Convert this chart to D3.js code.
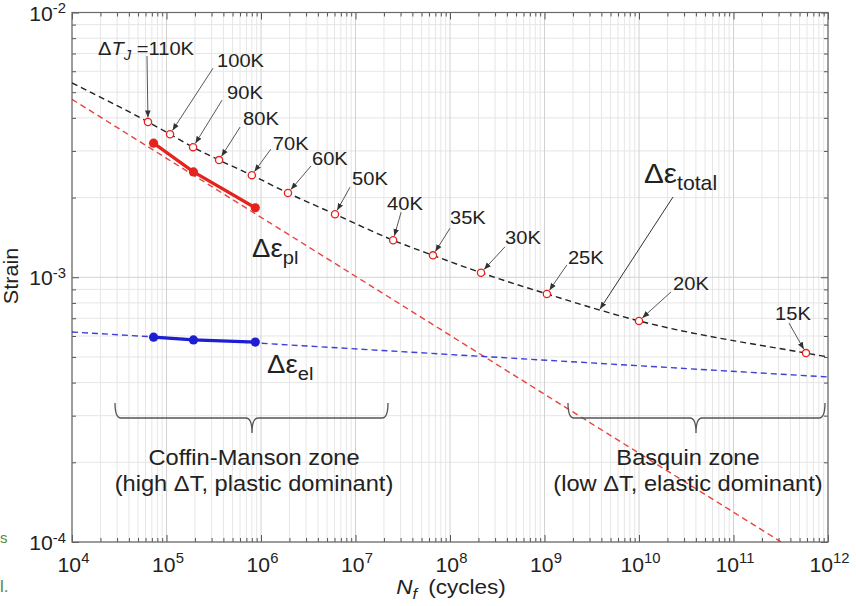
<!DOCTYPE html>
<html>
<head>
<meta charset="utf-8">
<script src="https://cdn.jsdelivr.net/npm/d3@7"></script>
<style>
  body { margin: 0; background: #fff; }
  svg { display: block; font-family: "Liberation Sans", Arial, Helvetica, sans-serif; }
</style>
</head>
<body>
<svg id="chart" width="856" height="606"></svg>
<script>
// Junction temperature swings (K) and the cycles to failure / total strain they map to
const deltaTj = [110, 100, 90, 80, 70, 60, 50, 40, 35, 30, 25, 20, 15];
const cyclesTotal = [6.37e4, 1.09e5, 1.91e5, 3.6e5, 8.0e5, 1.93e6, 6.07e6, 2.5e7, 6.6e7, 2.13e8, 1.06e9, 1.0e10, 5.85e11];
const strainTotal = [3.86e-3, 3.47e-3, 3.10e-3, 2.77e-3, 2.43e-3, 2.08e-3, 1.73e-3, 1.38e-3, 1.21e-3, 1.04e-3, 8.65e-4, 6.84e-4, 5.17e-4];

// Total-strain curve values at the axis limits
const totalEndCycles = [1e4, 1e12];
const totalEndStrain = [5.42e-3, 5.0e-4];

// Fitted plastic (Coffin-Manson) and elastic (Basquin) lines, by their end points
const plasticFitCycles = [1e4, 3.2e11];
const plasticFitStrain = [4.7e-3, 1e-4];
const elasticFitCycles = [1e4, 1e12];
const elasticFitStrain = [6.21e-4, 4.2e-4];

// Measured test points split into plastic and elastic parts
const testCycles = [7.3e4, 1.93e5, 8.7e5];
const plasticStrain = [3.21e-3, 2.50e-3, 1.83e-3];
const elasticStrain = [5.94e-4, 5.8e-4, 5.69e-4];

// Decade tick exponents
const xTickExps = [4, 5, 6, 7, 8, 9, 10, 11, 12];
const yTickExps = [-4, -3, -2];

// Label placement for each ΔTj marker: [label dx, label dy (middle), arrow tail dx, arrow tail dy]
const labelLayout = [
  [-50, -74, -1, -66], [47, -74, 43, -66], [34, -55, 29, -47], [24, -42, 21, -33],
  [21, -32, 19, -26], [24, -35, 23, -27], [17, -36, 15, -27], [-6, -37, 8, -28],
  [17, -38, 17, -27], [24, -36, 24, -26], [21, -37, 20, -29], [34, -38, 32, -29],
  [-31, -40, -17, -30]
];

const svg = d3.select("#chart");
const pLeft = 72, pRight = 828, pTop = 12.5, pBottom = 542;

const x = d3.scaleLog().domain([1e4, 1e12]).range([pLeft, pRight]);
const y = d3.scaleLog().domain([1e-4, 1e-2]).range([pBottom, pTop]);

const RED = "#e4231f", BLUE = "#1e1ed2", INK = "#222";

// Text placed at (xp, yp) and widened horizontally by sx
function wideText(parent, xp, yp, sx) {
  return parent.append("text").attr("transform", `translate(${xp},${yp}) scale(${sx},1)`);
}

// Minor / major tick values
const xMinor = [], yMinor = [];
xTickExps.slice(0, -1).forEach(e => { for (let m = 2; m <= 9; m++) xMinor.push(m * Math.pow(10, e)); });
yTickExps.slice(0, -1).forEach(e => { for (let m = 2; m <= 9; m++) yMinor.push(m * Math.pow(10, e)); });
const xMajor = xTickExps.map(e => Math.pow(10, e));
const yMajor = yTickExps.map(e => Math.pow(10, e));

const defs = svg.append("defs");
defs.append("clipPath").attr("id", "plot")
  .append("rect").attr("x", pLeft).attr("y", pTop).attr("width", pRight - pLeft).attr("height", pBottom - pTop);

// Grid
const grid = svg.append("g");
grid.selectAll(".vmin").data(xMinor).join("line")
  .attr("x1", d => x(d)).attr("x2", d => x(d)).attr("y1", pTop).attr("y2", pBottom)
  .attr("stroke", "#e6e6e6").attr("stroke-width", 1);
grid.selectAll(".hmin").data(yMinor).join("line")
  .attr("y1", d => y(d)).attr("y2", d => y(d)).attr("x1", pLeft).attr("x2", pRight)
  .attr("stroke", "#e6e6e6").attr("stroke-width", 1);
grid.selectAll(".vmaj").data(xMajor).join("line")
  .attr("x1", d => x(d)).attr("x2", d => x(d)).attr("y1", pTop).attr("y2", pBottom)
  .attr("stroke", "#d2d2d2").attr("stroke-width", 1);
grid.selectAll(".hmaj").data(yMajor).join("line")
  .attr("y1", d => y(d)).attr("y2", d => y(d)).attr("x1", pLeft).attr("x2", pRight)
  .attr("stroke", "#d2d2d2").attr("stroke-width", 1);

// Inward tick marks on all four sides
function ticks(axisFn, scale, vals, size, transform) {
  const g = svg.append("g").attr("transform", transform)
    .call(axisFn(scale).tickValues(vals).tickSize(size).tickFormat(""));
  g.select(".domain").remove();
  g.selectAll(".tick line").attr("stroke", "#555").attr("stroke-width", 1);
  return g;
}
ticks(d3.axisBottom, x, xMajor, -7, `translate(0,${pBottom})`);
ticks(d3.axisBottom, x, xMinor, -4, `translate(0,${pBottom})`);
ticks(d3.axisTop, x, xMajor, -7, `translate(0,${pTop})`);
ticks(d3.axisTop, x, xMinor, -4, `translate(0,${pTop})`);
ticks(d3.axisLeft, y, yMajor, -7, `translate(${pLeft},0)`);
ticks(d3.axisLeft, y, yMinor, -4, `translate(${pLeft},0)`);
ticks(d3.axisRight, y, yMajor, -7, `translate(${pRight},0)`);
ticks(d3.axisRight, y, yMinor, -4, `translate(${pRight},0)`);

// Frame
svg.append("rect").attr("x", pLeft).attr("y", pTop).attr("width", pRight - pLeft).attr("height", pBottom - pTop)
  .attr("fill", "none").attr("stroke", "#6a6a6a").attr("stroke-width", 1.2);

// Decade labels with superscript exponents
const xLab = svg.append("g").attr("transform", `translate(0,${pBottom})`)
  .call(d3.axisBottom(x).tickValues(xMajor).tickSize(0).tickPadding(0).tickFormat(""));
xLab.select(".domain").remove();
xLab.selectAll(".tick text").each(function (d) {
  const t = d3.select(this).attr("y", null).attr("dy", null)
    .attr("transform", "translate(1,30) scale(1.06,1)")
    .attr("font-size", 20).attr("fill", INK).attr("text-anchor", "middle")
    .attr("font-family", "Liberation Sans, Arial, sans-serif");
  t.append("tspan").text("10");
  t.append("tspan").attr("font-size", 14).attr("dy", -9).text(Math.round(Math.log10(d)));
});
const yLab = svg.append("g").attr("transform", `translate(${pLeft},0)`)
  .call(d3.axisLeft(y).tickValues(yMajor).tickSize(0).tickPadding(0).tickFormat(""));
yLab.select(".domain").remove();
yLab.selectAll(".tick text").each(function (d) {
  const t = d3.select(this).attr("x", null).attr("dy", null)
    .attr("transform", "translate(-6,7.5) scale(1.06,1)")
    .attr("font-size", 20).attr("fill", INK).attr("text-anchor", "end")
    .attr("font-family", "Liberation Sans, Arial, sans-serif");
  t.append("tspan").text("10");
  t.append("tspan").attr("font-size", 14).attr("dy", -7.5).text("-" + Math.abs(Math.round(Math.log10(d))));
});

// Axis titles
svg.append("text").attr("transform", "translate(18,276) rotate(-90) scale(1.08,1)")
  .attr("text-anchor", "middle").attr("font-size", 20).attr("fill", INK).text("Strain");
const xt = wideText(svg, 451, 594, 1.1).attr("text-anchor", "middle")
  .attr("font-size", 20.5).attr("fill", INK);
xt.append("tspan").attr("font-style", "italic").text("N");
xt.append("tspan").attr("font-style", "italic").attr("font-size", 15).attr("dy", 5).text("f");
xt.append("tspan").attr("dy", -5).text("\u2002(cycles)");

// Curves
const plot = svg.append("g").attr("clip-path", "url(#plot)");
const line = d3.line().x(d => x(d[0])).y(d => y(d[1]));

plot.append("path")
  .datum(plasticFitCycles.map((c, i) => [c, plasticFitStrain[i]]))
  .attr("d", line).attr("fill", "none").attr("stroke", RED).attr("stroke-width", 1.4)
  .attr("stroke-dasharray", "6,4").attr("opacity", 0.85);
plot.append("path")
  .datum(elasticFitCycles.map((c, i) => [c, elasticFitStrain[i]]))
  .attr("d", line).attr("fill", "none").attr("stroke", BLUE).attr("stroke-width", 1.4)
  .attr("stroke-dasharray", "6,4").attr("opacity", 0.85);

const totalPts = [[totalEndCycles[0], totalEndStrain[0]]]
  .concat(cyclesTotal.map((c, i) => [c, strainTotal[i]]))
  .concat([[totalEndCycles[1], totalEndStrain[1]]]);
plot.append("path").datum(totalPts)
  .attr("d", d3.line().x(d => x(d[0])).y(d => y(d[1])).curve(d3.curveMonotoneX))
  .attr("fill", "none").attr("stroke", "#222").attr("stroke-width", 1.4).attr("stroke-dasharray", "6,4");

// Measured plastic and elastic strains
[[plasticStrain, RED], [elasticStrain, BLUE]].forEach(([vals, col]) => {
  const pts = testCycles.map((c, i) => [c, vals[i]]);
  plot.append("path").datum(pts).attr("d", line).attr("fill", "none")
    .attr("stroke", col).attr("stroke-width", 3.2);
  plot.selectAll(null).data(pts).join("circle")
    .attr("cx", d => x(d[0])).attr("cy", d => y(d[1])).attr("r", 4.6).attr("fill", col);
});

// Arrowhead marker
defs.append("marker").attr("id", "arr").attr("viewBox", "0 0 10 10")
  .attr("refX", 10).attr("refY", 5).attr("markerWidth", 7).attr("markerHeight", 7)
  .attr("markerUnits", "userSpaceOnUse").attr("orient", "auto")
  .append("path").attr("d", "M0,1 L10,5 L0,9 Z").attr("fill", "#333");

// ΔTj markers with arrows and labels
const ann = svg.append("g");
cyclesTotal.forEach((c, i) => {
  const px = x(c), py = y(strainTotal[i]);
  const [lx, ly, tx, ty] = labelLayout[i];
  const ax = px + tx, ay = py + ty;
  const len = Math.hypot(px - ax, py - ay);
  const ex = px - (px - ax) / len * 4.5, ey = py - (py - ay) / len * 4.5;
  ann.append("line").attr("x1", ax).attr("y1", ay).attr("x2", ex).attr("y2", ey)
    .attr("stroke", "#444").attr("stroke-width", 0.9).attr("marker-end", "url(#arr)");
  ann.append("circle").attr("cx", px).attr("cy", py).attr("r", 3.6)
    .attr("fill", "#fff").attr("stroke", RED).attr("stroke-width", 1.3);
  const t = wideText(ann, px + lx, py + ly + 6.8, 1.06).attr("font-size", 19).attr("fill", INK);
  if (i === 0) {
    t.append("tspan").text("Δ");
    t.append("tspan").attr("font-style", "italic").text("T");
    t.append("tspan").attr("font-style", "italic").attr("font-size", 14).attr("dy", 5).text("J");
    t.append("tspan").attr("dy", -5).text(" =" + deltaTj[i] + "K");
  } else {
    t.text(deltaTj[i] + "K");
  }
});

// Strain component labels
function epsLabel(xp, yp, sub, big, small) {
  const t = wideText(svg, xp, yp, 1.06).attr("fill", INK).attr("font-size", big);
  t.append("tspan").text("Δε");
  t.append("tspan").attr("font-size", small).attr("dy", 7).text(sub);
}
epsLabel(644, 183, "total", 28, 20);
epsLabel(252, 257, "pl", 26, 19);
epsLabel(267, 373, "el", 26, 19);
svg.append("line").attr("x1", 673).attr("y1", 197).attr("x2", 600).attr("y2", 309)
  .attr("stroke", "#333").attr("stroke-width", 1).attr("marker-end", "url(#arr)");

// Zone braces
function brace(x0, x1, xc, yLine, yTop, yTip) {
  const r = 6;
  const p = `M${x0},${yTop} Q${x0},${yLine} ${x0 + r},${yLine} L${xc - r},${yLine} Q${xc},${yLine} ${xc},${yTip}` +
    ` Q${xc},${yLine} ${xc + r},${yLine} L${x1 - r},${yLine} Q${x1},${yLine} ${x1},${yTop}`;
  svg.append("path").attr("d", p).attr("fill", "none").attr("stroke", "#555").attr("stroke-width", 1.3);
}
brace(115, 388, 252, 418, 403, 433);
brace(568, 825, 696, 418, 403, 433);

function zoneText(xc, l1, l2) {
  wideText(svg, xc, 465, 1.1).attr("text-anchor", "middle")
    .attr("font-size", 21.5).attr("fill", INK).text(l1);
  wideText(svg, xc, 491, 1.1).attr("text-anchor", "middle")
    .attr("font-size", 21.5).attr("fill", INK).text(l2);
}
zoneText(254, "Coffin-Manson zone", "(high ΔT, plastic dominant)");
zoneText(688, "Basquin zone", "(low ΔT, elastic dominant)");

// Fragments of neighbouring page text at the left edge
svg.append("text").attr("x", 0).attr("y", 543).attr("font-size", 15).attr("fill", "#5b8a32").text("s");
svg.append("text").attr("x", 0).attr("y", 592).attr("font-size", 17).attr("fill", "#5b8a32").text("l.");
</script>
</body>
</html>
